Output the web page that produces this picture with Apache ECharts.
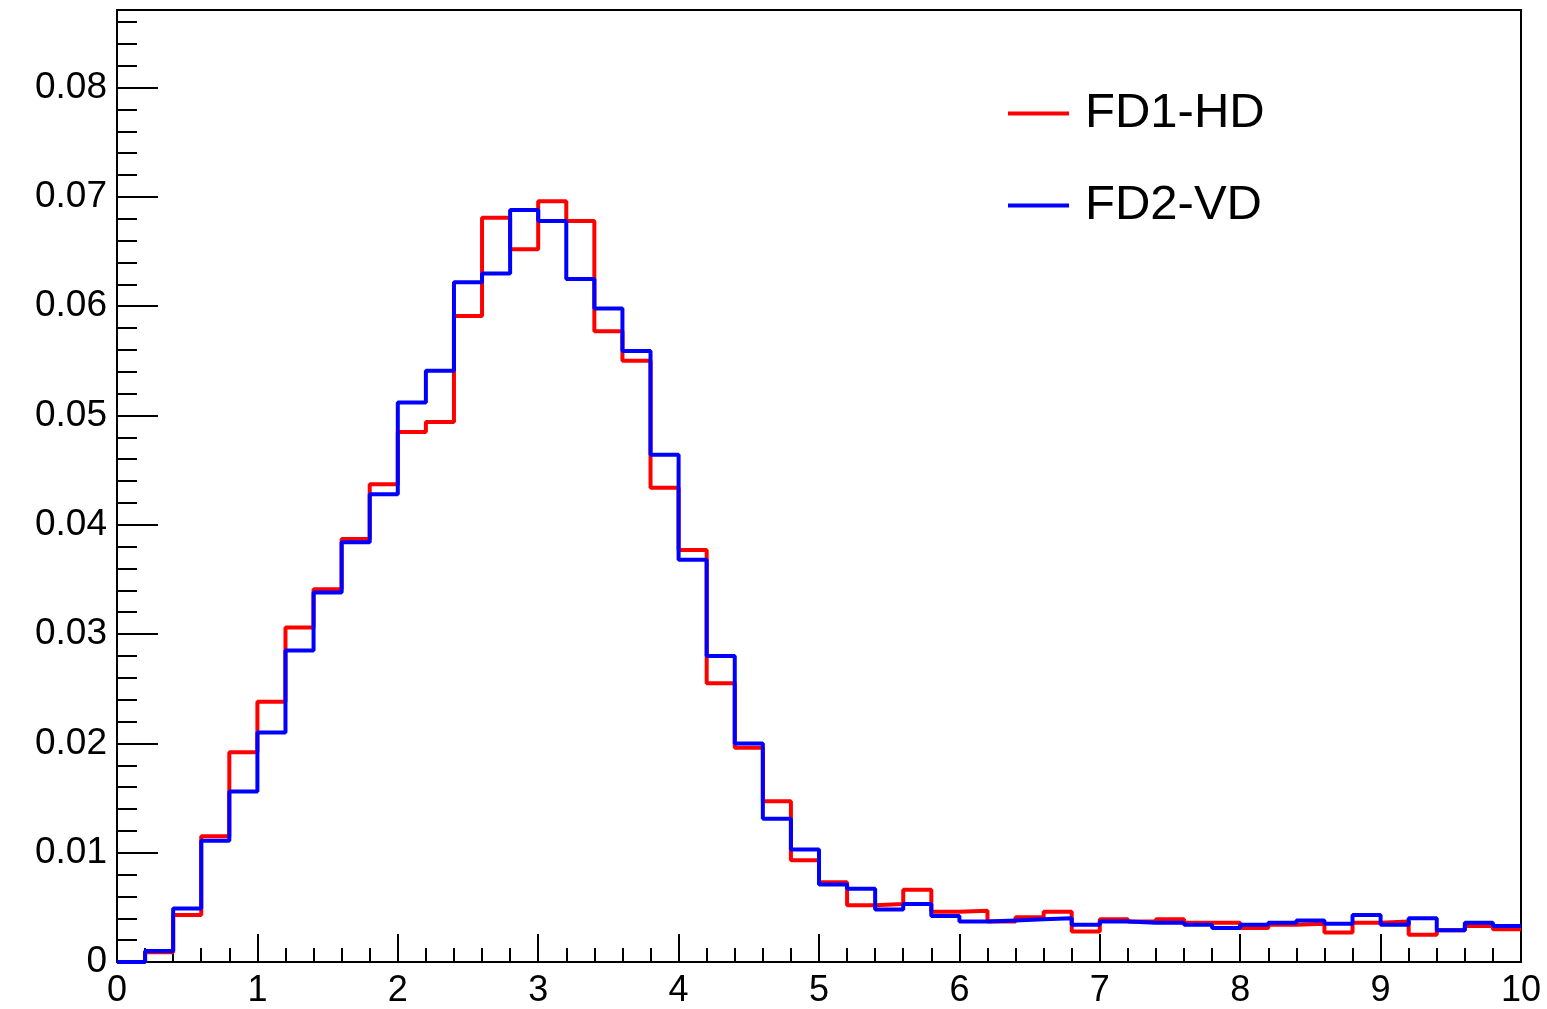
<!DOCTYPE html>
<html>
<head>
<meta charset="utf-8">
<script src="https://cdn.jsdelivr.net/npm/echarts@6/dist/echarts.min.js"></script>
<style>
html,body{margin:0;padding:0;background:#fff;}
#chart{width:1547px;height:1009px;}
</style>
</head>
<body>
<div id="chart"></div>
<script>
// Histogram: 50 bins from 0 to 10
const binCount = 50;
const xMin = 0;
const xMax = 10;
const seriesNames = ['FD1-HD', 'FD2-VD'];

const fd1hd = [
  0.0000, 0.0009, 0.0043, 0.0115, 0.0192, 0.0238, 0.0306, 0.0341, 0.0387, 0.0437,
  0.0485, 0.0494, 0.0591, 0.0681, 0.0652, 0.0696, 0.0678, 0.0577, 0.0550, 0.0434,
  0.0377, 0.0255, 0.0196, 0.0147, 0.0093, 0.0073, 0.0052, 0.0053, 0.0066, 0.0046,
  0.0047, 0.0037, 0.0041, 0.0046, 0.0028, 0.0039, 0.0037, 0.0039, 0.0036, 0.0036,
  0.0031, 0.0034, 0.0035, 0.0027, 0.0036, 0.0037, 0.0025, 0.0029, 0.0033, 0.0030
];

const fd2vd = [
  0.0000, 0.0010, 0.0049, 0.0111, 0.0156, 0.0210, 0.0285, 0.0338, 0.0384, 0.0428,
  0.0512, 0.0541, 0.0622, 0.0630, 0.0688, 0.0678, 0.0625, 0.0598, 0.0559, 0.0464,
  0.0368, 0.0280, 0.0200, 0.0131, 0.0103, 0.0071, 0.0067, 0.0048, 0.0053, 0.0042,
  0.0037, 0.0038, 0.0039, 0.0040, 0.0034, 0.0037, 0.0036, 0.0036, 0.0034, 0.0031,
  0.0034, 0.0036, 0.0038, 0.0035, 0.0043, 0.0034, 0.0040, 0.0029, 0.0036, 0.0033
];

const binWidth = (xMax - xMin) / binCount;
const binEdges = Array.from({length: binCount + 1}, (_, i) => +(xMin + i * binWidth).toFixed(6));

function toSteps(values) {
  const pts = values.map((v, i) => [binEdges[i], v]);
  pts.push([binEdges[binCount], values[binCount - 1]]);
  return pts;
}

const FONT = '"Liberation Sans", Arial, Helvetica, sans-serif';
const yTop = 0.0871;

const chart = echarts.init(document.getElementById('chart'), null, {renderer: 'canvas'});
chart.setOption({
  animation: false,
  backgroundColor: '#fff',
  grid: {
    left: 117, right: 26, top: 10, bottom: 47,
    show: true, borderColor: '#000', borderWidth: 2, backgroundColor: 'transparent'
  },
  legend: {
    orient: 'vertical',
    left: 1008,
    top: 89,
    padding: 0,
    icon: 'rect',
    itemWidth: 61,
    itemHeight: 4,
    itemGap: 43,
    data: seriesNames,
    textStyle: {fontFamily: FONT, fontSize: 49, color: '#000', padding: [0, 0, 0, 11]}
  },
  xAxis: {
    type: 'value',
    min: xMin, max: xMax, interval: 1,
    axisLine: {show: true, onZero: false, lineStyle: {color: '#000', width: 2}},
    axisTick: {show: true, inside: true, length: 28, lineStyle: {color: '#000', width: 2}},
    minorTick: {show: true, splitNumber: 5, length: 14, lineStyle: {color: '#000', width: 2}},
    splitLine: {show: false},
    axisLabel: {fontFamily: FONT, fontSize: 36, color: '#000', margin: 11}
  },
  yAxis: [{
    type: 'value',
    min: 0, max: yTop, interval: 0.01,
    axisLine: {show: true, lineStyle: {color: '#000', width: 2}},
    axisTick: {show: true, inside: true, length: 41, lineStyle: {color: '#000', width: 2}},
    splitLine: {show: false},
    axisLabel: {fontFamily: FONT, fontSize: 37, color: '#000', margin: 10, showMaxLabel: false}
  }, {
    type: 'value',
    position: 'left',
    min: 0, max: yTop, interval: 0.002,
    axisLine: {show: false},
    axisTick: {show: true, inside: true, length: 20, lineStyle: {color: '#000', width: 2}},
    splitLine: {show: false},
    axisLabel: {show: false}
  }],
  series: [{
    name: seriesNames[0],
    type: 'line',
    step: 'end',
    symbol: 'none',
    data: toSteps(fd1hd),
    color: '#ff0000',
    lineStyle: {color: '#ff0000', width: 4},
    z: 2
  }, {
    name: seriesNames[1],
    type: 'line',
    step: 'end',
    symbol: 'none',
    data: toSteps(fd2vd),
    color: '#0000ff',
    lineStyle: {color: '#0000ff', width: 4},
    z: 3
  }]
});
</script>
</body>
</html>
